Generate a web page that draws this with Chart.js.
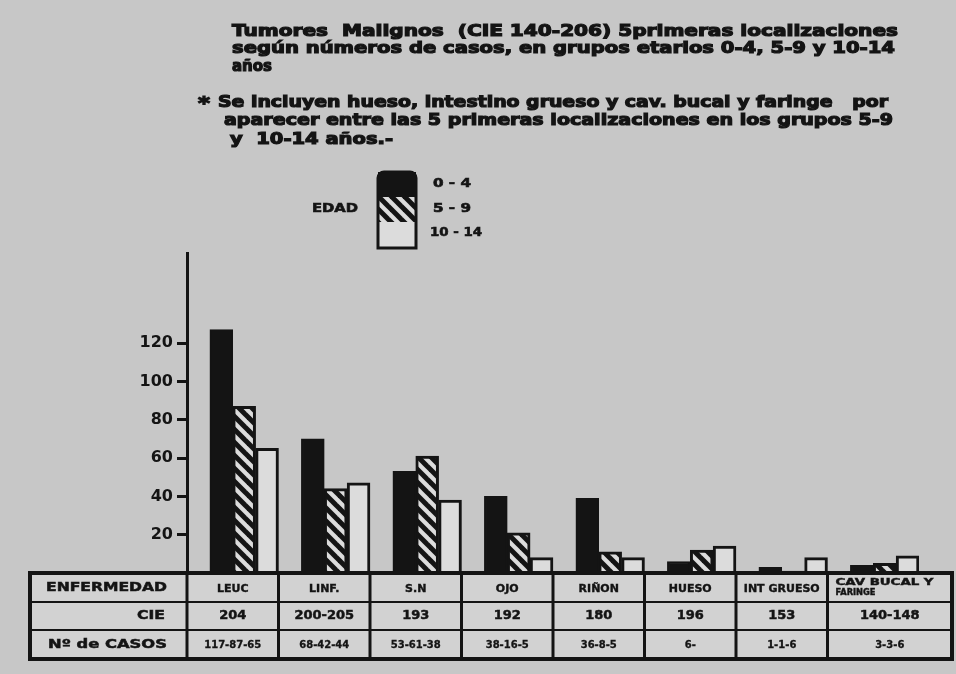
<!DOCTYPE html>
<html>
<head>
<meta charset="utf-8">
<script src="https://cdn.jsdelivr.net/npm/chart.js@4.4.1/dist/chart.umd.min.js"></script>
<style>
  body { margin: 0; background: #c7c7c7; }
  canvas { display: block; }
</style>
</head>
<body>
<canvas id="grafTumores" width="956" height="674"></canvas>
<script>
// datos
const categorias = ["LEUC", "LINF.", "S.N", "OJO", "RIÑON", "HUESO", "INT GRUESO", ["CAV BUCAL Y", "FARINGE"]];
const cie = ["204", "200-205", "193", "192", "180", "196", "153", "140-148"];
const numCasos = ["117-87-65", "68-42-44", "53-61-38", "38-16-5", "36-8-5", "6-", "1-1-6", "3-3-6"];
const edades = ["0-4", "5-9", "10-14"];
const casos0a4 = [127, 70, 53, 40, 39, 6, 3, 4];
const casos5a9 = [87, 44, 61, 21, 11, 12, 1, 5];
const casos10a14 = [65, 47, 38, 8, 8, 14, 8, 9];
const ticksY = [20, 40, 60, 80, 100, 120];

const titulo = [
  "Tumores  Malignos  (CIE 140-206) 5primeras localizaciones",
  "según números de casos, en grupos etarios 0-4, 5-9 y 10-14",
  "años",
];
const nota = [
  "Se incluyen hueso, intestino grueso y cav. bucal y faringe   por",
  "aparecer entre las 5 primeras localizaciones en los grupos 5-9",
  "y  10-14 años.-",
];

const negro = "#141414";
const blanco = "#dcdcdc";
const fuente = '"DejaVu Sans"';

function rayado() {
  const c = document.createElement("canvas");
  c.width = 13;
  c.height = 13;
  const g = c.getContext("2d");
  g.fillStyle = blanco;
  g.fillRect(0, 0, 13, 13);
  g.strokeStyle = negro;
  g.lineWidth = 5;
  for (let d = -13; d <= 13; d += 13) {
    g.beginPath();
    g.moveTo(d - 2, -2);
    g.lineTo(d + 15, 15);
    g.stroke();
  }
  return g.createPattern(c, "repeat");
}
const patron = rayado();

// texto ajustado a un ancho, con trazo para que se vea mas grueso
function texto(ctx, str, x, y, size, ancho, alinear, grueso) {
  ctx.save();
  ctx.font = "bold " + size + "px " + fuente;
  ctx.fillStyle = negro;
  ctx.strokeStyle = negro;
  ctx.textBaseline = "middle";
  const w = ctx.measureText(str).width;
  const s = ancho ? ancho / w : 1;
  let x0 = x;
  if (alinear === "center") x0 = x - (w * s) / 2;
  if (alinear === "right") x0 = x - w * s;
  ctx.translate(x0, y);
  ctx.scale(s, 1);
  ctx.fillText(str, 0, 0);
  if (grueso) {
    ctx.lineWidth = grueso;
    ctx.strokeText(str, 0, 0);
  }
  ctx.restore();
}

const dibujoExtra = {
  id: "dibujoExtra",
  afterDraw(chart) {
    const ctx = chart.ctx;
    const area = chart.chartArea;
    const x = chart.scales.x;

    // titulo y nota
    texto(ctx, titulo[0], 232, 32, 16, 666, null, 1.2);
    texto(ctx, titulo[1], 232, 49, 16, 663, null, 1.2);
    texto(ctx, titulo[2], 232, 67, 16, 40, null, 1.2);
    texto(ctx, "*", 198, 104, 18, 12, null, 1.2);
    texto(ctx, nota[0], 218, 103, 16, 670, null, 1.2);
    texto(ctx, nota[1], 224, 121, 16, 669, null, 1.2);
    texto(ctx, nota[2], 230, 140, 16, 163, null, 1.2);

    // leyenda
    const lx = 378, lw = 38, ly = [172, 197, 222, 248];
    ctx.fillStyle = negro;
    ctx.fillRect(lx, ly[0], lw, ly[1] - ly[0]);
    ctx.fillStyle = patron;
    ctx.fillRect(lx, ly[1], lw, ly[2] - ly[1]);
    ctx.fillStyle = blanco;
    ctx.fillRect(lx, ly[2], lw, ly[3] - ly[2]);
    ctx.strokeStyle = negro;
    ctx.lineWidth = 3;
    ctx.beginPath();
    ctx.roundRect(lx, ly[0], lw, ly[3] - ly[0], [6, 6, 0, 0]);
    ctx.stroke();
    texto(ctx, "EDAD", 312, 209, 12, 46, null, 0.6);
    texto(ctx, edades[0].replace("-", " - "), 433, 184, 12, 38, null, 0.6);
    texto(ctx, edades[1].replace("-", " - "), 433, 209, 12, 38, null, 0.6);
    texto(ctx, edades[2].replace("-", " - "), 430, 233, 12, 52, null, 0.6);

    // tabla
    const top = area.bottom;
    const filas = [top, top + 29, top + 57, top + 86];
    const paso = x.getPixelForValue(1) - x.getPixelForValue(0);
    const cols = [30, area.left];
    for (let i = 0; i < categorias.length - 1; i++) cols.push(x.getPixelForValue(i) + paso / 2);
    cols.push(952);

    ctx.fillStyle = "#d2d2d2";
    ctx.fillRect(cols[0], filas[0], cols[cols.length - 1] - cols[0], filas[3] - filas[0]);
    ctx.strokeStyle = negro;
    ctx.lineWidth = 2;
    for (let j = 1; j < 3; j++) {
      ctx.beginPath();
      ctx.moveTo(cols[0], filas[j]);
      ctx.lineTo(cols[cols.length - 1], filas[j]);
      ctx.stroke();
    }
    ctx.lineWidth = 3;
    for (let i = 1; i < cols.length - 1; i++) {
      ctx.beginPath();
      ctx.moveTo(cols[i], filas[0]);
      ctx.lineTo(cols[i], filas[3]);
      ctx.stroke();
    }
    ctx.lineWidth = 4;
    ctx.strokeRect(cols[0], filas[0], cols[cols.length - 1] - cols[0], filas[3] - filas[0]);

    const cy = [filas[0] + 15, filas[1] + 14, filas[2] + 15];
    texto(ctx, "ENFERMEDAD", 46, cy[0], 12, 121, null, 0.5);
    texto(ctx, "CIE", 165, cy[1], 13, 28, "right", 0.5);
    texto(ctx, "Nº de CASOS", 48, cy[2], 12, 119, null, 0.5);

    categorias.forEach((cat, i) => {
      const cx = (cols[i + 1] + cols[i + 2]) / 2;
      if (Array.isArray(cat)) {
        texto(ctx, cat[0], cols[i + 1] + 8, filas[0] + 10, 8, 98, null, 0.4);
        texto(ctx, cat[1], cols[i + 1] + 8, filas[0] + 20, 8, 40, null, 0.4);
      } else {
        texto(ctx, cat, cx, cy[0] + 1, 11, null, "center", 0.4);
      }
      texto(ctx, cie[i], cx, cy[1], 13, null, "center", 0.5);
      texto(ctx, numCasos[i], cx, cy[2], 10, null, "center", 0.3);
    });
  },
};

new Chart(document.querySelector("#grafTumores").getContext("2d"), {
  type: "bar",
  data: {
    labels: categorias,
    datasets: [
      {
        label: "",
        data: categorias.map(() => null),
        backgroundColor: "rgba(0,0,0,0)",
      },
      {
        label: edades[0],
        data: casos0a4,
        backgroundColor: negro,
        borderColor: negro,
        borderWidth: 2,
      },
      {
        label: edades[1],
        data: casos5a9,
        backgroundColor: patron,
        borderColor: negro,
        borderWidth: 3,
      },
      {
        label: edades[2],
        data: casos10a14,
        backgroundColor: blanco,
        borderColor: negro,
        borderWidth: 3,
      },
    ],
  },
  options: {
    responsive: false,
    animation: false,
    categoryPercentage: 1,
    barPercentage: 1,
    layout: {
      padding: { top: 253, left: 0, right: 37, bottom: 0 },
    },
    plugins: {
      legend: { display: false },
      title: { display: false },
      tooltip: { enabled: false },
    },
    scales: {
      x: {
        grid: { display: false },
        border: { display: false },
        ticks: { display: false },
        afterFit: (scale) => {
          scale.height = 101;
        },
      },
      y: {
        min: 0,
        max: 167,
        afterFit: (scale) => {
          scale.width = 187;
        },
        afterBuildTicks: (scale) => {
          scale.ticks = ticksY.map((v) => ({ value: v }));
        },
        ticks: {
          color: negro,
          padding: 4,
          font: { family: "DejaVu Sans", size: 16, weight: "bold" },
        },
        grid: {
          drawOnChartArea: false,
          drawTicks: true,
          tickLength: 10,
          tickWidth: 3,
          tickColor: negro,
        },
        border: { display: true, color: negro, width: 3 },
      },
    },
  },
  plugins: [dibujoExtra],
});
</script>
</body>
</html>
